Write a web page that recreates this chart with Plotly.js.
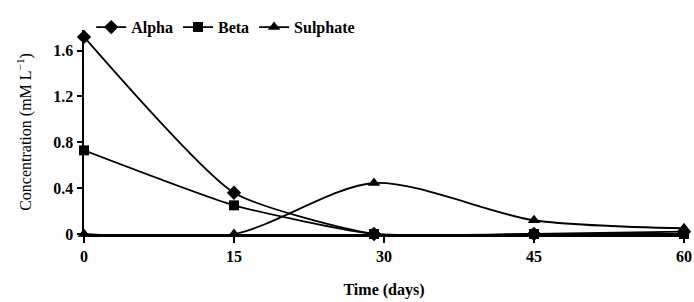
<!DOCTYPE html>
<html><head><meta charset="utf-8">
<script src="https://cdn.plot.ly/plotly-3.0.1.min.js"></script>
<style>html,body{margin:0;padding:0;background:#fff}#c{width:694px;height:302px}</style>
</head><body><div id="c"></div>
<script>
const days = [0, 15, 29, 45, 60];
const alpha = [1.72, 0.36, 0.0, 0.0, 0.02];
const beta = [0.73, 0.25, 0.0, 0.0, 0.0];
const sulphate = [0.0, 0.0, 0.445, 0.12, 0.05];
const xTicks = [0, 15, 30, 45, 60];
const yTicks = [0, 0.4, 0.8, 1.2, 1.6];
const yTickText = ["0", "0.4", "0.8", "1.2", "1.6"];

const F = "Liberation Serif, Times New Roman, serif";
function tr(name, y, sym, size, sm) {
  return {x: days, y: y, name: name, type: 'scatter', mode: 'lines+markers',
    line: {color: '#000', width: 1.8, shape: 'spline', smoothing: sm},
    marker: {symbol: sym, size: size, color: '#000'}, cliponaxis: false};
}
const data = [
  tr('Alpha', alpha, 'diamond', 11, 0.55),
  tr('Beta', beta, 'square', 10, 0.5),
  tr('Sulphate', sulphate, 'triangle-up', 11, 0.8)
];
const layout = {
  width: 694, height: 302,
  margin: {l: 84, r: 10, t: 25, b: 68},
  paper_bgcolor: '#fff', plot_bgcolor: '#fff',
  font: {family: F, size: 16, color: '#000'},
  showlegend: true,
  legend: {orientation: 'h', x: 0.012, xanchor: 'left', y: 1.014, yanchor: 'middle',
    font: {family: F, size: 16, color: '#000', weight: 'bold'}, itemwidth: 30, tracegroupgap: 0,
    bgcolor: 'rgba(0,0,0,0)'},
  xaxis: {range: [0, 60], tickvals: xTicks, ticktext: xTicks.map(String),
    showgrid: false, zeroline: false, showline: true, linecolor: '#000', linewidth: 2.5,
    ticks: 'outside', ticklen: 6, tickwidth: 2, tickcolor: '#000',
    tickfont: {family: F, size: 16, weight: 'bold'},
    title: {text: 'Time (days)', font: {family: F, size: 16, weight: 'bold'}, standoff: 20}},
  yaxis: {range: [0, 1.78], tickvals: yTicks, ticktext: yTickText,
    showgrid: false, zeroline: false, showline: true, linecolor: '#000', linewidth: 2.5,
    ticks: 'outside', ticklen: 5, tickwidth: 2, tickcolor: '#000',
    tickfont: {family: F, size: 16, weight: 'bold'},
    title: {text: 'Concentration (mM L<sup>−1</sup>)', font: {family: F, size: 16}, standoff: 18}}
};
Plotly.newPlot('c', data, layout, {staticPlot: true, displayModeBar: false});
</script></body></html>
